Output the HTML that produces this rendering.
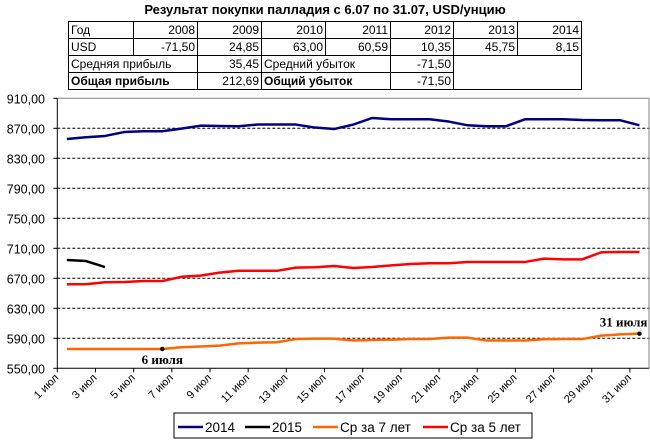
<!DOCTYPE html>
<html><head><meta charset="utf-8">
<style>
body{margin:0;background:#fff;width:650px;height:440px;overflow:hidden;font-family:"Liberation Sans",sans-serif;}
#title{position:absolute;left:0;width:650px;top:2px;text-align:center;font-weight:bold;font-size:13px;}
table{position:absolute;left:68px;top:21px;border-collapse:collapse;font-size:12px;table-layout:fixed;width:513px;}
td{border:1px solid #000;padding:0 2px;height:16px;line-height:15px;text-align:right;white-space:nowrap;overflow:hidden;}
td.l{text-align:left;}
.b td.l{font-weight:bold;}
</style></head><body>
<div id="title">Результат покупки палладия с 6.07 по 31.07, USD/унцию</div>
<table>
<colgroup><col style="width:65px"><col style="width:64px"><col style="width:64px"><col style="width:64px"><col style="width:65px"><col style="width:63px"><col style="width:64px"><col style="width:64px"></colgroup>
<tr><td class="l">Год</td><td>2008</td><td>2009</td><td>2010</td><td>2011</td><td>2012</td><td>2013</td><td>2014</td></tr>
<tr><td class="l">USD</td><td>-71,50</td><td>24,85</td><td>63,00</td><td>60,59</td><td>10,35</td><td>45,75</td><td>8,15</td></tr>
<tr><td class="l" colspan="2">Средняя прибыль</td><td>35,45</td><td class="l" colspan="2">Средний убыток</td><td>-71,50</td><td colspan="2" rowspan="2"></td></tr>
<tr class="b"><td class="l" colspan="2">Общая прибыль</td><td>212,69</td><td class="l" colspan="2">Общий убыток</td><td>-71,50</td></tr>
</table>
<svg id="chart" width="650" height="440" style="position:absolute;left:0;top:0"></svg>
<script>
const days = [1,2,3,4,5,6,7,8,9,10,11,12,13,14,15,16,17,18,19,20,21,22,23,24,25,26,27,28,29,30,31];
const s2014 = [855.7,858,859.8,865,866,866,869.5,873.5,873,872.7,875,875,875,871,869,874.9,883.8,882,882,882,879,874,872.7,872.7,882,882,882,881,880.7,880.7,874];
const s2015 = [694.4,693,685];
const avg7 = [575.8,575.8,575.8,575.8,575.8,575.8,578,579,580.2,583.3,584.2,584.7,589,589.5,589.5,587,587.8,588.2,589,589,590.9,590.9,587,587,587,588.7,589,589,593.6,595.3,596.2];
const avg5 = [662,662,664.7,665,666.4,666.4,672,673.6,677.6,680,680,680,684.2,684.7,686.4,683.8,685,687.3,689,690,690,691.8,691.8,691.8,691.8,696.2,695.3,695.3,704.7,705,705];
const yTicks = [550,590,630,670,710,750,790,830,870,910];
const yTickLabels = ["550,00","590,00","630,00","670,00","710,00","750,00","790,00","830,00","870,00","910,00"];
const xTickLabels = ["1 июл","3 июл","5 июл","7 июл","9 июл","11 июл","13 июл","15 июл","17 июл","19 июл","21 июл","23 июл","25 июл","27 июл","29 июл","31 июл"];
const annotations = [{day:6,label:"6 июля"},{day:31,label:"31 июля"}];

const X0=57.3,X1=649,Y0=98.3,Y1=368.3,VMIN=550,VMAX=910;
const cw=(X1-X0)/days.length;
const x=d=>X0+(d-0.5)*cw;
const y=v=>Y1-(v-VMIN)/(VMAX-VMIN)*(Y1-Y0);
const svg=document.getElementById('chart');
const NS='http://www.w3.org/2000/svg';
function mk(t,a){const e=document.createElementNS(NS,t);for(const k in a)e.setAttribute(k,a[k]);svg.appendChild(e);return e;}

yTicks.forEach((v,i)=>{
  if(v!==VMIN&&v!==VMAX){const g=mk('line',{x1:X0,x2:X1,y1:y(v),y2:y(v),stroke:'#000','stroke-dasharray':'3,2','stroke-width':1});
  
  }
  const tk=mk('line',{x1:X0-4,x2:X0,y1:y(v),y2:y(v),stroke:'#000'});
  
  
  const t=mk('text',{x:45,y:y(v)+5,'text-anchor':'end','font-size':12.5,'font-family':'Liberation Sans, sans-serif',fill:'#000'});
  t.textContent=yTickLabels[i];
  
  
});
const bt=mk('line',{x1:X0,x2:X1,y1:Y0,y2:Y0,stroke:'#808080'});


const br=mk('line',{x1:X1,x2:X1,y1:Y0,y2:Y1,stroke:'#808080'});


const ya=mk('line',{x1:X0,x2:X0,y1:Y0,y2:Y1,stroke:'#000'});


const xa=mk('line',{x1:X0,x2:X1,y1:Y1,y2:Y1,stroke:'#000'});



xTickLabels.forEach((lab,i)=>{
  const tx=X0+i*2*cw;
  const tk=mk('line',{x1:tx,x2:tx,y1:Y1,y2:Y1+4,stroke:'#000'});
  
  
  const t=mk('text',{x:tx+2,y:Y1+10,'text-anchor':'end','font-size':11,'font-family':'Liberation Sans, sans-serif',fill:'#000',transform:`rotate(-45 ${tx+2} ${Y1+10})`});
  t.textContent=lab;
  
  
});

function series(arr,color,name){
  const p=mk('polyline',{points:arr.map((v,i)=>x(days[i])+','+y(v)).join(' '),fill:'none',stroke:color,'stroke-width':2.5,'stroke-linejoin':'round'});
  
  
}
series(s2014,'#000080','line-2014');
series(s2015,'#000000','line-2015');
series(avg7,'#FF6600','line-avg-7-years');
series(avg5,'#FF0000','line-avg-5-years');

annotations.forEach((a,i)=>{
  const cx=x(a.day),cy=y(avg7[a.day-1]);
  const c=mk('circle',{cx:cx,cy:cy,r:2.2,fill:'#000'});
  
  
  const t=mk('text',i===0?{x:cx,y:cy+15,'text-anchor':'middle'}:{x:cx+8,y:cy-7,'text-anchor':'end'});
  t.setAttribute('font-size',13);t.setAttribute('font-weight','bold');t.setAttribute('font-family','Liberation Serif, serif');
  t.textContent=a.label;
  
  
});

const lg=mk('rect',{x:174,y:413,width:358,height:25,fill:'#fff',stroke:'#000'});


[[178,'#000080','2014'],[245,'#000000','2015'],[313,'#FF6600','Ср за 7 лет'],[423,'#FF0000','Ср за 5 лет']].forEach(e=>{
  const l=mk('line',{x1:e[0],x2:e[0]+25,y1:427,y2:427,stroke:e[1],'stroke-width':2.5});
  
  
  const t=mk('text',{x:e[0]+27,y:432,'font-size':13.5,'font-family':'Liberation Sans, sans-serif'});
  t.textContent=e[2];
  
  
});
</script>
</body></html>
